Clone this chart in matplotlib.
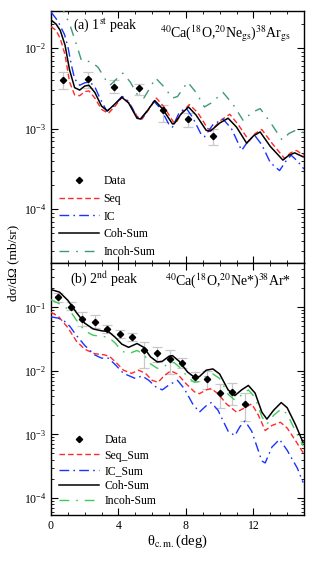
import numpy as np
import matplotlib
matplotlib.use("Agg")
import matplotlib.pyplot as plt
from matplotlib.ticker import LogLocator, FixedLocator, MultipleLocator, NullFormatter

plt.rcParams['font.family'] = ['Liberation Serif', 'DejaVu Serif']
plt.rcParams['mathtext.fontset'] = 'stix'

# ---------------- Panel (a): 1st peak ----------------
top_data_x = [0.73, 2.2, 3.73, 5.2, 6.65, 8.12, 9.6]
top_data_y = [4.0e-3, 4.2e-3, 3.3e-3, 3.16e-3, 1.7e-3, 1.32e-3, 8.1e-4]
top_data_lo = [3.1e-3, 3.2e-3, 2.75e-3, 2.6e-3, 1.2e-3, 1.05e-3, 6.2e-4]
top_data_hi = [5.1e-3, 5.1e-3, 4.0e-3, 3.6e-3, 1.95e-3, 1.55e-3, 1.0e-3]

top_coh_x = [0.0, 0.3, 0.55, 0.83, 1.1, 1.4, 1.7, 2.0, 2.25, 2.6, 3.0, 3.35, 3.7, 4.2, 4.6, 5.1,
             5.3, 5.7, 6.15, 6.6, 7.2, 7.3, 7.7, 8.15, 8.6, 9.2, 9.45, 10.0, 10.5, 11.0, 11.6,
             12.0, 12.4, 13.0, 13.75, 14.1, 14.45, 14.95]
top_coh_log = [-1.65, -1.70, -1.78, -1.96, -2.27, -2.49, -2.52, -2.47, -2.46, -2.55, -2.72, -2.78,
               -2.71, -2.61, -2.68, -2.87, -2.88, -2.78, -2.65, -2.75, -2.94, -2.94, -2.82, -2.73,
               -2.83, -3.02, -3.03, -2.93, -2.87, -2.98, -3.18, -3.09, -3.04, -3.22, -3.39, -3.33,
               -3.30, -3.35]

top_seq_x = [0.0, 0.3, 0.55, 0.83, 1.1, 1.4, 1.7, 2.0, 2.25, 2.6, 3.0, 3.4, 3.8, 4.25, 4.7, 5.2,
             5.4, 5.8, 6.25, 6.7, 7.3, 7.4, 7.8, 8.2, 8.7, 9.3, 9.55, 10.1, 10.6, 11.1, 11.75,
             12.1, 12.5, 13.1, 13.85, 14.2, 14.55, 15.0]
top_seq_log = [-1.73, -1.78, -1.88, -2.08, -2.42, -2.58, -2.59, -2.54, -2.53, -2.62, -2.76, -2.81,
               -2.72, -2.60, -2.70, -2.88, -2.88, -2.76, -2.62, -2.73, -2.93, -2.93, -2.79, -2.70,
               -2.80, -3.00, -3.01, -2.89, -2.82, -2.95, -3.15, -3.06, -3.01, -3.18, -3.37, -3.30,
               -3.27, -3.33]

top_ic_x = [0.0, 0.4, 0.8, 1.0, 1.2, 1.4, 1.7, 2.0, 2.3, 2.6, 2.9, 3.3, 3.7, 4.2, 4.6, 5.0, 5.3,
            5.7, 6.1, 6.5, 7.0, 7.2, 7.6, 8.0, 8.4, 8.9, 9.1, 9.6, 10.2, 10.7, 11.3, 11.7, 12.07,
            12.5, 13.0, 13.55, 14.0, 14.24, 14.6, 15.0]
top_ic_log = [-1.55, -1.66, -1.83, -1.98, -2.20, -2.38, -2.46, -2.43, -2.42, -2.48, -2.62, -2.78,
              -2.72, -2.60, -2.66, -2.82, -2.89, -2.78, -2.66, -2.75, -2.95, -2.98, -2.80, -2.74,
              -2.86, -3.07, -3.10, -2.95, -2.88, -3.00, -3.27, -3.15, -3.08, -3.20, -3.42, -3.52,
              -3.38, -3.33, -3.40, -3.50]

top_incoh_x = [0.5, 0.73, 1.12, 1.52, 1.8, 2.1, 2.4, 2.8, 3.2, 3.5, 3.8, 4.26, 4.7, 5.1, 5.5, 5.85,
               6.2, 6.7, 7.2, 7.5, 8.1, 8.6, 9.1, 9.5, 10.2, 10.8, 11.4, 11.9, 12.4, 13.0, 13.7,
               14.1, 14.5, 15.0]
top_incoh_log = [-1.45, -1.53, -1.71, -1.96, -2.15, -2.16, -2.17, -2.24, -2.38, -2.46, -2.40, -2.31,
                 -2.42, -2.57, -2.62, -2.50, -2.37, -2.48, -2.62, -2.60, -2.42, -2.55, -2.73, -2.68,
                 -2.55, -2.70, -2.90, -2.80, -2.75, -2.92, -3.14, -3.06, -3.02, -3.05]

# ---------------- Panel (b): 2nd peak ----------------
bot_data_x = [0.43, 1.16, 1.82, 2.6, 3.33, 4.08, 4.81, 5.52, 6.29, 7.04, 7.77, 8.52, 9.25, 10.0,
              10.73, 11.48]
bot_data_y = [0.145, 0.103, 0.065, 0.059, 0.046, 0.038, 0.034, 0.021, 0.019, 0.0155, 0.0134,
              0.008, 0.0074, 0.0045, 0.0047, 0.003]
bot_data_lo = [0.12, 0.09, 0.05, 0.048, 0.040, 0.033, 0.029, 0.011, 0.014, 0.009, 0.011, 0.0068,
               0.0052, 0.0026, 0.0029, 0.0016]
bot_data_hi = [0.17, 0.12, 0.085, 0.075, 0.052, 0.044, 0.040, 0.028, 0.024, 0.021, 0.016, 0.0095,
               0.010, 0.0062, 0.0065, 0.0045]

bot_coh_x = [0.0, 0.5, 1.0, 1.5, 2.0, 2.5, 3.0, 3.4, 3.8, 4.2, 4.6, 5.1, 5.5, 5.9, 6.3, 6.6, 7.0,
             7.2, 7.6, 8.1, 8.5, 8.8, 9.2, 9.6, 10.0, 10.5, 10.9, 11.3, 11.7, 12.1, 12.5, 12.8,
             13.2, 13.65, 14.0, 14.5, 14.95]
bot_coh_log = [-0.72, -0.76, -0.89, -1.08, -1.25, -1.34, -1.37, -1.38, -1.47, -1.58, -1.63, -1.57,
               -1.63, -1.78, -1.86, -1.85, -1.77, -1.76, -1.85, -2.02, -2.10, -2.09, -1.99, -1.97,
               -2.05, -2.30, -2.39, -2.30, -2.23, -2.35, -2.65, -2.76, -2.62, -2.50, -2.58, -2.85,
               -3.13]

bot_seq_x = [0.0, 0.43, 1.0, 1.5, 2.0, 2.6, 3.2, 3.5, 3.9, 4.3, 4.77, 5.2, 5.6, 6.0, 6.35, 6.7,
             7.1, 7.5, 8.0, 8.5, 8.8, 9.2, 9.5, 9.9, 10.4, 11.0, 11.5, 11.9, 12.3, 12.7, 13.1,
             13.6, 14.0, 14.5, 14.95]
bot_seq_log = [-1.08, -1.14, -1.32, -1.53, -1.66, -1.73, -1.75, -1.78, -1.88, -1.99, -2.04, -1.99,
               -2.04, -2.15, -2.18, -2.08, -2.00, -2.05, -2.20, -2.33, -2.36, -2.30, -2.28, -2.36,
               -2.52, -2.65, -2.58, -2.52, -2.70, -2.94, -2.86, -2.81, -2.90, -3.10, -3.29]

bot_ic_x = [0.0, 0.43, 0.8, 1.12, 1.5, 2.0, 2.6, 3.0, 3.4, 3.8, 4.3, 5.0, 5.4, 5.8, 6.2, 6.6, 7.0,
            7.5, 7.9, 8.4, 8.8, 9.2, 9.5, 9.9, 10.5, 10.9, 11.2, 11.5, 11.9, 12.5, 12.7, 13.1,
            13.55, 14.0, 14.6, 14.95]
bot_ic_log = [-1.15, -1.17, -1.22, -1.30, -1.44, -1.60, -1.75, -1.80, -1.80, -1.90, -2.04, -2.12,
              -2.08, -2.15, -2.25, -2.30, -2.22, -2.15, -2.28, -2.52, -2.65, -2.55, -2.50, -2.62,
              -2.95, -3.02, -2.88, -2.79, -2.95, -3.42, -3.45, -3.20, -3.08, -3.25, -3.53, -3.76]

bot_incoh_x = [0.0, 0.4, 0.8, 1.12, 1.5, 2.0, 2.5, 3.1, 3.4, 3.8, 4.2, 4.6, 5.1, 5.5, 5.9, 6.3,
               6.6, 7.0, 7.3, 7.7, 8.1, 8.5, 8.8, 9.2, 9.6, 10.0, 10.5, 10.9, 11.3, 11.7, 12.1,
               12.5, 12.8, 13.2, 13.65, 14.0, 14.5, 14.95]
bot_incoh_log = [-0.88, -0.93, -0.99, -1.05, -1.20, -1.37, -1.44, -1.46, -1.47, -1.56, -1.69, -1.73,
                 -1.68, -1.74, -1.89, -1.96, -1.95, -1.88, -1.87, -1.96, -2.10, -2.18, -2.17, -2.08,
                 -2.05, -2.12, -2.37, -2.46, -2.38, -2.30, -2.42, -2.72, -2.84, -2.70, -2.60, -2.68,
                 -2.95, -3.18]

x_ticks = [0, 4, 8, 12]

# ---------------- Figure ----------------
fig = plt.figure(figsize=(3.15, 5.61), dpi=100)
W, H = 315.0, 561.0
ax1 = fig.add_axes([51 / W, 1 - 263 / H, 253 / W, 252 / H])
ax2 = fig.add_axes([51 / W, 1 - 515 / H, 253 / W, 252 / H])

RED = '#ff2a2a'
BLUE = '#1a33ff'
TEAL = '#3c9a78'
GREEN = '#3ccc55'
ERR = '#c8c8c8'


def draw_panel(ax, dx, dy, dlo, dhi, seq, ic, coh, incoh, green, labels):
    dy = np.array(dy)
    yerr = [dy - np.array(dlo), np.array(dhi) - dy]
    ax.errorbar(dx, dy, yerr=yerr, fmt='none', ecolor=ERR, elinewidth=0.9, capsize=3.5,
                capthick=0.9, zorder=2)
    ax.plot(dx, dy, linestyle='none', marker='D', ms=3.2, color='black', label='Data', zorder=6)
    ax.plot(seq[0], 10 ** np.array(seq[1]), color=RED, lw=1.0, dashes=(4, 2.2), label=labels[0],
            zorder=3)
    ax.plot(ic[0], 10 ** np.array(ic[1]), color=BLUE, lw=1.0, dashes=(7, 3, 1.2, 3),
            label=labels[1], zorder=3)
    ax.plot(coh[0], 10 ** np.array(coh[1]), color='black', lw=1.1, label='Coh-Sum', zorder=5)
    ax.plot(incoh[0], 10 ** np.array(incoh[1]), color=green, lw=1.0, dashes=(7, 5, 1.2, 5),
            label='Incoh-Sum', zorder=4)
    ax.set_yscale('log')
    ax.set_xlim(0, 15)
    ax.xaxis.set_major_locator(FixedLocator(x_ticks))
    ax.xaxis.set_minor_locator(MultipleLocator(1))
    ax.yaxis.set_major_locator(LogLocator(base=10, numticks=20))
    ax.yaxis.set_minor_locator(LogLocator(base=10, subs=np.arange(2, 10), numticks=20))
    ax.yaxis.set_minor_formatter(NullFormatter())
    ax.tick_params(which='both', direction='in', top=True, right=True, labelsize=8.5)
    ax.tick_params(which='major', length=5, width=0.8)
    ax.tick_params(which='minor', length=2.5, width=0.6)
    for s in ax.spines.values():
        s.set_linewidth(1.0)


draw_panel(ax1, top_data_x, top_data_y, top_data_lo, top_data_hi,
           (top_seq_x, top_seq_log), (top_ic_x, top_ic_log), (top_coh_x, top_coh_log),
           (top_incoh_x, top_incoh_log), TEAL, ('Seq', 'IC'))
draw_panel(ax2, bot_data_x, bot_data_y, bot_data_lo, bot_data_hi,
           (bot_seq_x, bot_seq_log), (bot_ic_x, bot_ic_log), (bot_coh_x, bot_coh_log),
           (bot_incoh_x, bot_incoh_log), GREEN, ('Seq_Sum', 'IC_Sum'))

ax1.set_ylim(10 ** -4.668, 10 ** -1.538)
ax2.set_ylim(10 ** -4.27, 10 ** -0.302)
ax1.tick_params(labelbottom=False)

leg1 = ax1.legend(loc='lower left', bbox_to_anchor=(0.03, 0.02), frameon=False, fontsize=8.5,
                  handlelength=3.4, handletextpad=0.4, labelspacing=0.48, borderpad=0,
                  borderaxespad=0, numpoints=1)
leg2 = ax2.legend(loc='lower left', bbox_to_anchor=(0.03, 0.03), frameon=False, fontsize=8.5,
                  handlelength=3.4, handletextpad=0.5, labelspacing=0.28, borderpad=0,
                  borderaxespad=0, numpoints=1)

ax1.text(0.085, 0.945, r'(a) 1$^{\rm st}$ peak', transform=ax1.transAxes, fontsize=10,
         va='center', ha='left')
ax1.text(0.95, 0.91, r'$^{40}$Ca($^{18}$O,$^{20}$Ne$_{\rm gs}$)$^{38}$Ar$_{\rm gs}$',
         transform=ax1.transAxes, fontsize=10, va='center', ha='right')
ax2.text(0.075, 0.94, r'(b) 2$^{\rm nd}$ peak', transform=ax2.transAxes, fontsize=10,
         va='center', ha='left')
ax2.text(0.95, 0.93, r'$^{40}$Ca($^{18}$O,$^{20}$Ne*)$^{38}$Ar*',
         transform=ax2.transAxes, fontsize=10, va='center', ha='right')

fig.text(13 / W, 1 - 263 / H, 'dσ/dΩ (mb/sr)', rotation=90, fontsize=9.5,
         va='center', ha='center')
fig.text(177 / W, 1 - 541 / H, r'θ$_{\rm c.m.}$(deg)', fontsize=10.5, va='center',
         ha='center')

fig.savefig('out.png', dpi=100)
